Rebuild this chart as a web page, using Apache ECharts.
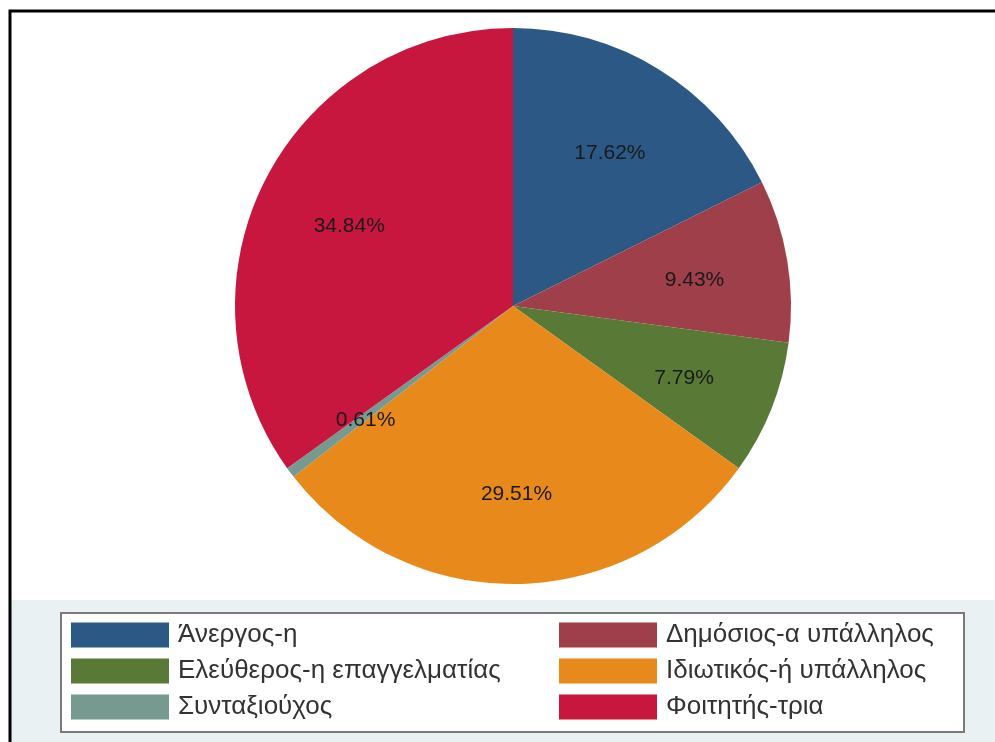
<!DOCTYPE html>
<html>
<head>
<meta charset="utf-8">
<script src="https://cdn.jsdelivr.net/npm/echarts@6/dist/echarts.min.js"></script>
<style>
html,body{margin:0;padding:0;background:#fff;}
#main{width:995px;height:742px;}
</style>
</head>
<body>
<div id="main"></div>
<script>
// Data
const categories = ['Άνεργος-η', 'Δημόσιος-α υπάλληλος', 'Ελεύθερος-η επαγγελματίας', 'Ιδιωτικός-ή υπάλληλος', 'Συνταξιούχος', 'Φοιτητής-τρια'];
const percentValues = [17.62, 9.43, 7.79, 29.51, 0.61, 34.84];
const sliceColors = ['#2c5886', '#9e3f49', '#587a36', '#e88a1b', '#779a90', '#c8173f'];

const chart = echarts.init(document.getElementById('main'), null, {renderer: 'canvas'});

const pieData = categories.map((c, i) => ({name: c, value: percentValues[i], itemStyle: {color: sliceColors[i]}}));
const labelData = categories.map((c, i) => ({name: c, value: percentValues[i]}));

const leftCol = categories.filter((c, i) => i % 2 === 0);
const rightCol = categories.filter((c, i) => i % 2 === 1);

const legendCommon = {
  orient: 'vertical',
  top: 622,
  itemWidth: 98,
  itemHeight: 25,
  itemGap: 10,
  padding: 0,
  icon: 'rect',
  selectedMode: false,
  textStyle: {fontFamily: 'Liberation Sans', fontSize: 26, color: '#333', padding: [0, 0, 0, 4]}
};

chart.setOption({
  animation: false,
  backgroundColor: '#ffffff',
  graphic: [
    {type: 'rect', z: -10, shape: {x: 10, y: 600, width: 1000, height: 200}, style: {fill: '#eaf1f3'}},
    {type: 'rect', z: -5, shape: {x: 61, y: 613, width: 903, height: 119}, style: {fill: '#ffffff', stroke: '#7a7a7a', lineWidth: 2}},
    {type: 'rect', z: 100, shape: {x: 10, y: 11, width: 1100, height: 1000}, style: {fill: 'none', stroke: '#000', lineWidth: 3}}
  ],
  legend: [
    Object.assign({}, legendCommon, {left: 71, data: leftCol}),
    Object.assign({}, legendCommon, {left: 559, data: rightCol})
  ],
  series: [
    {
      type: 'pie',
      center: [513, 306],
      radius: [0, 278],
      startAngle: 90,
      clockwise: true,
      silent: true,
      label: {show: false},
      labelLine: {show: false},
      itemStyle: {borderWidth: 0},
      data: pieData
    },
    {
      type: 'pie',
      center: [513, 306],
      radius: [84, 278],
      startAngle: 90,
      clockwise: true,
      silent: true,
      itemStyle: {color: 'rgba(0,0,0,0)', borderWidth: 0},
      label: {
        show: true,
        position: 'inside',
        fontFamily: 'Liberation Sans',
        fontSize: 21,
        color: '#1a1a1a',
        offset: [0, 4],
        formatter: p => p.value.toFixed(2) + '%'
      },
      labelLine: {show: false},
      data: labelData
    }
  ]
});
</script>
</body>
</html>
